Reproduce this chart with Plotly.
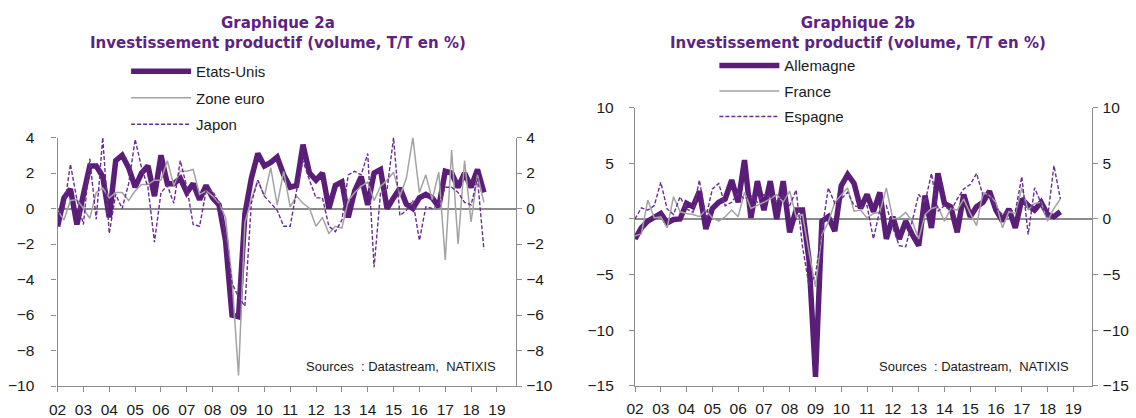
import pandas as pd
import plotly.graph_objects as go

# ---------------- data (quarterly, 2002Q1 .. 2018Q3) ----------------
quarters = pd.period_range("2002Q1", "2018Q3", freq="Q").to_timestamp()

etats_unis = [-1.0, 0.6, 1.1, -0.9, 0.8, 2.4, 2.4, 1.8, -0.5, 2.7,
              3.0, 2.3, 1.2, 2.0, 2.4, 0.7, 3.0, 1.4, 1.4, 1.7,
              0.9, 1.4, 0.5, 1.3, 0.6, 0.2, -1.8, -6.0, -6.1, -0.3,
              1.7, 3.1, 2.4, 2.6, 2.9, 1.9, 1.2, 1.3, 3.6, 2.0,
              1.6, 2.0, 0.0, 1.3, 1.5, -0.5, 1.0, 1.8, 0.2, 2.0,
              2.2, 0.0, 0.6, 1.15, 0.25, 0.0, 0.6, 0.8, 0.6, 0.1,
              2.1, 2.0, 1.2, 2.0, 1.2, 2.2, 0.9]
zone_euro = [-0.1, -0.65, 0.45, 0.5, 0.0, -0.55, 0.9, 1.15, 0.6, 0.9,
             0.9, 0.45, 1.0, 1.35, 1.35, 1.6, 1.6, 2.7, 1.3, 2.1,
             2.1, 2.2, 0.8, 1.0, 0.7, 0.3, -0.5, -4.0, -9.4, -0.8,
             0.5, 1.6, 0.7, 2.3, 0.2, 2.1, 0.1, 0.7, 0.3, 0.0,
             -1.0, -0.5, -1.4, -1.0, -1.1, 0.45, 0.9, 1.25, 1.5, 0.45,
             1.25, 1.6, 2.05, 0.7, 1.7, 4.0, 0.9, 1.9, 0.5, 2.05,
             -2.9, 3.3, -2.0, 2.7, -0.75, 1.9, 0.35]
japon = [-0.3, 0.0, 2.5, 0.5, -0.9, 2.8, -0.6, 4.0, -1.4, 0.8,
         0.0, 1.4, 3.9, 2.3, 1.2, -1.9, 0.9, 1.3, 0.3, 2.7,
         1.2, -0.9, -1.0, 1.0, 1.0, 0.3, -1.5, -4.2, -5.0, -5.5,
         0.3, 1.6, 0.7, 0.3, -0.1, -1.0, -1.0, 1.0, 2.7, 1.6,
         0.6, 0.6, -1.0, -1.3, -0.65, 1.9, 2.1, 1.9, 3.1, -3.3,
         0.9, 1.05, 4.0, -0.4, -0.1, 0.45, -1.8, 0.1, 0.0, 0.2,
         1.2, 1.2, 0.9, 0.35, 0.2, 1.7, -2.3]

allemagne = [-1.8, -0.8, -0.2, 0.2, 0.5, -0.35, -0.05, 0.0, 1.4, 1.1,
             2.5, -0.9, 0.95, 1.5, 1.8, 3.5, 1.5, 5.3, 0.1, 3.4,
             0.8, 3.4, 0.0, 3.4, -1.2, 0.8, 0.8, -3.7, -14.2, -0.2,
             0.2, -1.1, 3.0, 4.0, 3.2, 0.95, 2.2, 0.65, 2.4, -1.8,
             0.2, -1.8, -0.2, -1.4, -2.4, 2.1, -0.8, 4.1, 1.4, 1.1,
             -1.2, 2.2, 0.2, 1.1, 1.5, 2.5, 0.8, -0.2, 0.9, -0.8,
             1.8, 1.2, 0.8, 1.5, 0.4, 0.2, 0.65]
france = [-1.5, -1.35, 1.7, 0.1, 0.2, -0.8, 2.0, 0.65, 0.5, 0.4,
          0.2, 0.8, 0.1, -0.2, 0.2, 0.8, 0.2, 2.4, 0.95, 1.2,
          1.5, 1.8, 2.2, 1.5, 2.5, 0.2, 0.4, -3.0, -6.1, -1.4,
          -0.3, 1.5, 2.2, 2.8, 0.7, 0.8, 0.1, 0.5, 0.6, 2.8,
          0.0, 0.1, 0.6, -0.2, -1.8, 0.4, 0.95, 1.1, -0.2, 0.95,
          0.8, 1.8, 0.5, -0.6, 2.4, 2.1, 1.5, -0.8, 0.65, 0.5,
          2.8, 0.8, 1.4, 1.5, -0.2, 0.95, 1.8]
espagne = [0.0, 1.0, 0.8, 1.2, 3.3, 0.9, 0.4, 2.0, 0.9, 0.6,
           3.5, 0.1, 2.7, 3.2, 1.2, 1.5, 2.3, 1.8, 2.1, 1.5,
           2.2, 2.0, 1.6, 2.1, 1.2, 2.6, -2.5, -6.0, -5.0, -1.2,
           2.8, 1.4, 1.8, 2.4, 1.2, 1.0, 1.2, -1.8, 0.8, 1.2,
           -0.8, -2.4, -2.5, -0.2, 2.2, 1.5, 4.1, 0.7, 1.2, 0.7,
           1.8, 2.7, 3.1, 4.1, 2.1, 2.2, 1.0, 0.4, 0.8, 0.7,
           3.8, -1.4, 2.8, 1.4, 0.1, 4.8, 1.8]

year_ticks = pd.date_range("2002-01-01", "2019-01-01", freq="YS")
year_labels = [f"{d.year % 100:02d}" for d in year_ticks]

left_ticks = [-10, -8, -6, -4, -2, 0, 2, 4]
right_ticks = [-15, -10, -5, 0, 5, 10]

# ---------------- style ----------------
PURPLE = "#5B1E78"
DASH_PURPLE = "#6A2C91"
GREY = "#A3A3A3"
AXIS = "#8C8C8C"
TITLE = "#5E2382"
FONT = "Liberation Sans, Arial, sans-serif"
TITLE_FONT = "DejaVu Sans, sans-serif"
W, H = 1136, 418


def px_x(p):
    return p / W


def px_y(p):
    return 1 - p / H


fig = go.Figure()

# left chart
fig.add_trace(go.Scatter(x=quarters, y=etats_unis, name="Etats-Unis", mode="lines",
                         line=dict(color=PURPLE, width=5.5), xaxis="x", yaxis="y",
                         legend="legend", legendgroup="a1"))
fig.add_trace(go.Scatter(x=quarters, y=zone_euro, name="Zone euro", mode="lines",
                         line=dict(color=GREY, width=1.5), xaxis="x", yaxis="y",
                         legend="legend", legendgroup="a2"))
fig.add_trace(go.Scatter(x=quarters, y=japon, name="Japon", mode="lines",
                         line=dict(color=DASH_PURPLE, width=1.4, dash="4px,2px"),
                         xaxis="x", yaxis="y2", legend="legend", legendgroup="a3"))
# right chart
fig.add_trace(go.Scatter(x=quarters, y=allemagne, name="Allemagne", mode="lines",
                         line=dict(color=PURPLE, width=5.5), xaxis="x2", yaxis="y3",
                         legend="legend2", legendgroup="b1"))
fig.add_trace(go.Scatter(x=quarters, y=france, name="France", mode="lines",
                         line=dict(color=GREY, width=1.5), xaxis="x2", yaxis="y3",
                         legend="legend2", legendgroup="b2"))
fig.add_trace(go.Scatter(x=quarters, y=espagne, name="Espagne", mode="lines",
                         line=dict(color=DASH_PURPLE, width=1.4, dash="4px,2px"),
                         xaxis="x2", yaxis="y4", legend="legend2", legendgroup="b3"))

tickfont = dict(family=FONT, size=15.5, color="#1a1a1a")
xr = ["2002-01-01", "2019-09-27"]

xcommon = dict(type="date", range=xr, tickvals=year_ticks, ticktext=year_labels,
               showline=True, linecolor=AXIS, linewidth=1.3, ticks="outside",
               ticklen=5, tickcolor=AXIS, tickwidth=1.3, showgrid=False,
               zeroline=False, tickfont=tickfont, fixedrange=True,
               ticklabelstandoff=4)


def ycommon(rng, ticks, side, standoff):
    return dict(range=rng, tickvals=ticks, showline=True, linecolor=AXIS,
                linewidth=1.3, ticks="outside", ticklen=5, tickcolor=AXIS,
                tickwidth=1.3, showgrid=False, tickfont=tickfont, side=side,
                fixedrange=True, ticklabelstandoff=standoff)


dom1 = [px_x(49), px_x(511)]
dom2 = [px_x(631), px_x(1092)]
ydom1 = [px_y(393), px_y(134)]
ydom2 = [px_y(392.7), px_y(103)]

fig.update_layout(
    width=W, height=H, autosize=False,
    margin=dict(l=0, r=0, t=0, b=0, pad=0),
    paper_bgcolor="white", plot_bgcolor="white",
    font=dict(family=FONT, color="#1a1a1a"),
    xaxis=dict(domain=dom1, anchor="y", **xcommon),
    yaxis=dict(domain=ydom1, anchor="x", zeroline=True, zerolinecolor=AXIS,
               zerolinewidth=1.6, **ycommon([-10, 4], left_ticks, "left", 14)),
    yaxis2=dict(overlaying="y", anchor="x", zeroline=False,
                **ycommon([-10, 4], left_ticks, "right", 1)),
    xaxis2=dict(domain=dom2, anchor="y3", **xcommon),
    yaxis3=dict(domain=ydom2, anchor="x2", zeroline=True, zerolinecolor=AXIS,
                zerolinewidth=1.6, **ycommon([-15, 10], right_ticks, "left", 12)),
    yaxis4=dict(overlaying="y3", anchor="x2", zeroline=False,
                **ycommon([-15, 10], right_ticks, "right", 1)),
    legend=dict(x=px_x(118), y=px_y(48), xanchor="left", yanchor="top",
                bgcolor="rgba(0,0,0,0)", tracegroupgap=4, itemwidth=60,
                font=dict(family=FONT, size=15, color="#1a1a1a")),
    legend2=dict(x=px_x(711), y=px_y(42), xanchor="left", yanchor="top",
                 bgcolor="rgba(0,0,0,0)", tracegroupgap=3, itemwidth=60,
                 font=dict(family=FONT, size=15, color="#1a1a1a")),
    showlegend=True,
)

title_txt = "<b>Graphique {}<br>Investissement productif (volume, T/T en %)</b>"
fig.add_annotation(text=title_txt.format("2a"), x=px_x(271), y=px_y(25),
                   xref="paper", yref="paper", showarrow=False,
                   xanchor="center", yanchor="middle", align="center",
                   font=dict(family=TITLE_FONT, size=15, color=TITLE))
fig.add_annotation(text=title_txt.format("2b"), x=px_x(856), y=px_y(25),
                   xref="paper", yref="paper", showarrow=False,
                   xanchor="center", yanchor="middle", align="center",
                   font=dict(family=TITLE_FONT, size=15, color=TITLE))
fig.add_annotation(text="Sources  : Datastream,  NATIXIS", x=px_x(395), y=px_y(373),
                   xref="paper", yref="paper", showarrow=False,
                   xanchor="center", yanchor="middle",
                   font=dict(family=FONT, size=13, color="#1a1a1a"))
fig.add_annotation(text="Sources  : Datastream,  NATIXIS", x=px_x(973), y=px_y(373),
                   xref="paper", yref="paper", showarrow=False,
                   xanchor="center", yanchor="middle",
                   font=dict(family=FONT, size=13, color="#1a1a1a"))

fig.write_html("out.html", include_plotlyjs=True, config={"displayModeBar": False},
               post_script="document.body.style.margin='0';document.body.style.overflow='hidden';")
